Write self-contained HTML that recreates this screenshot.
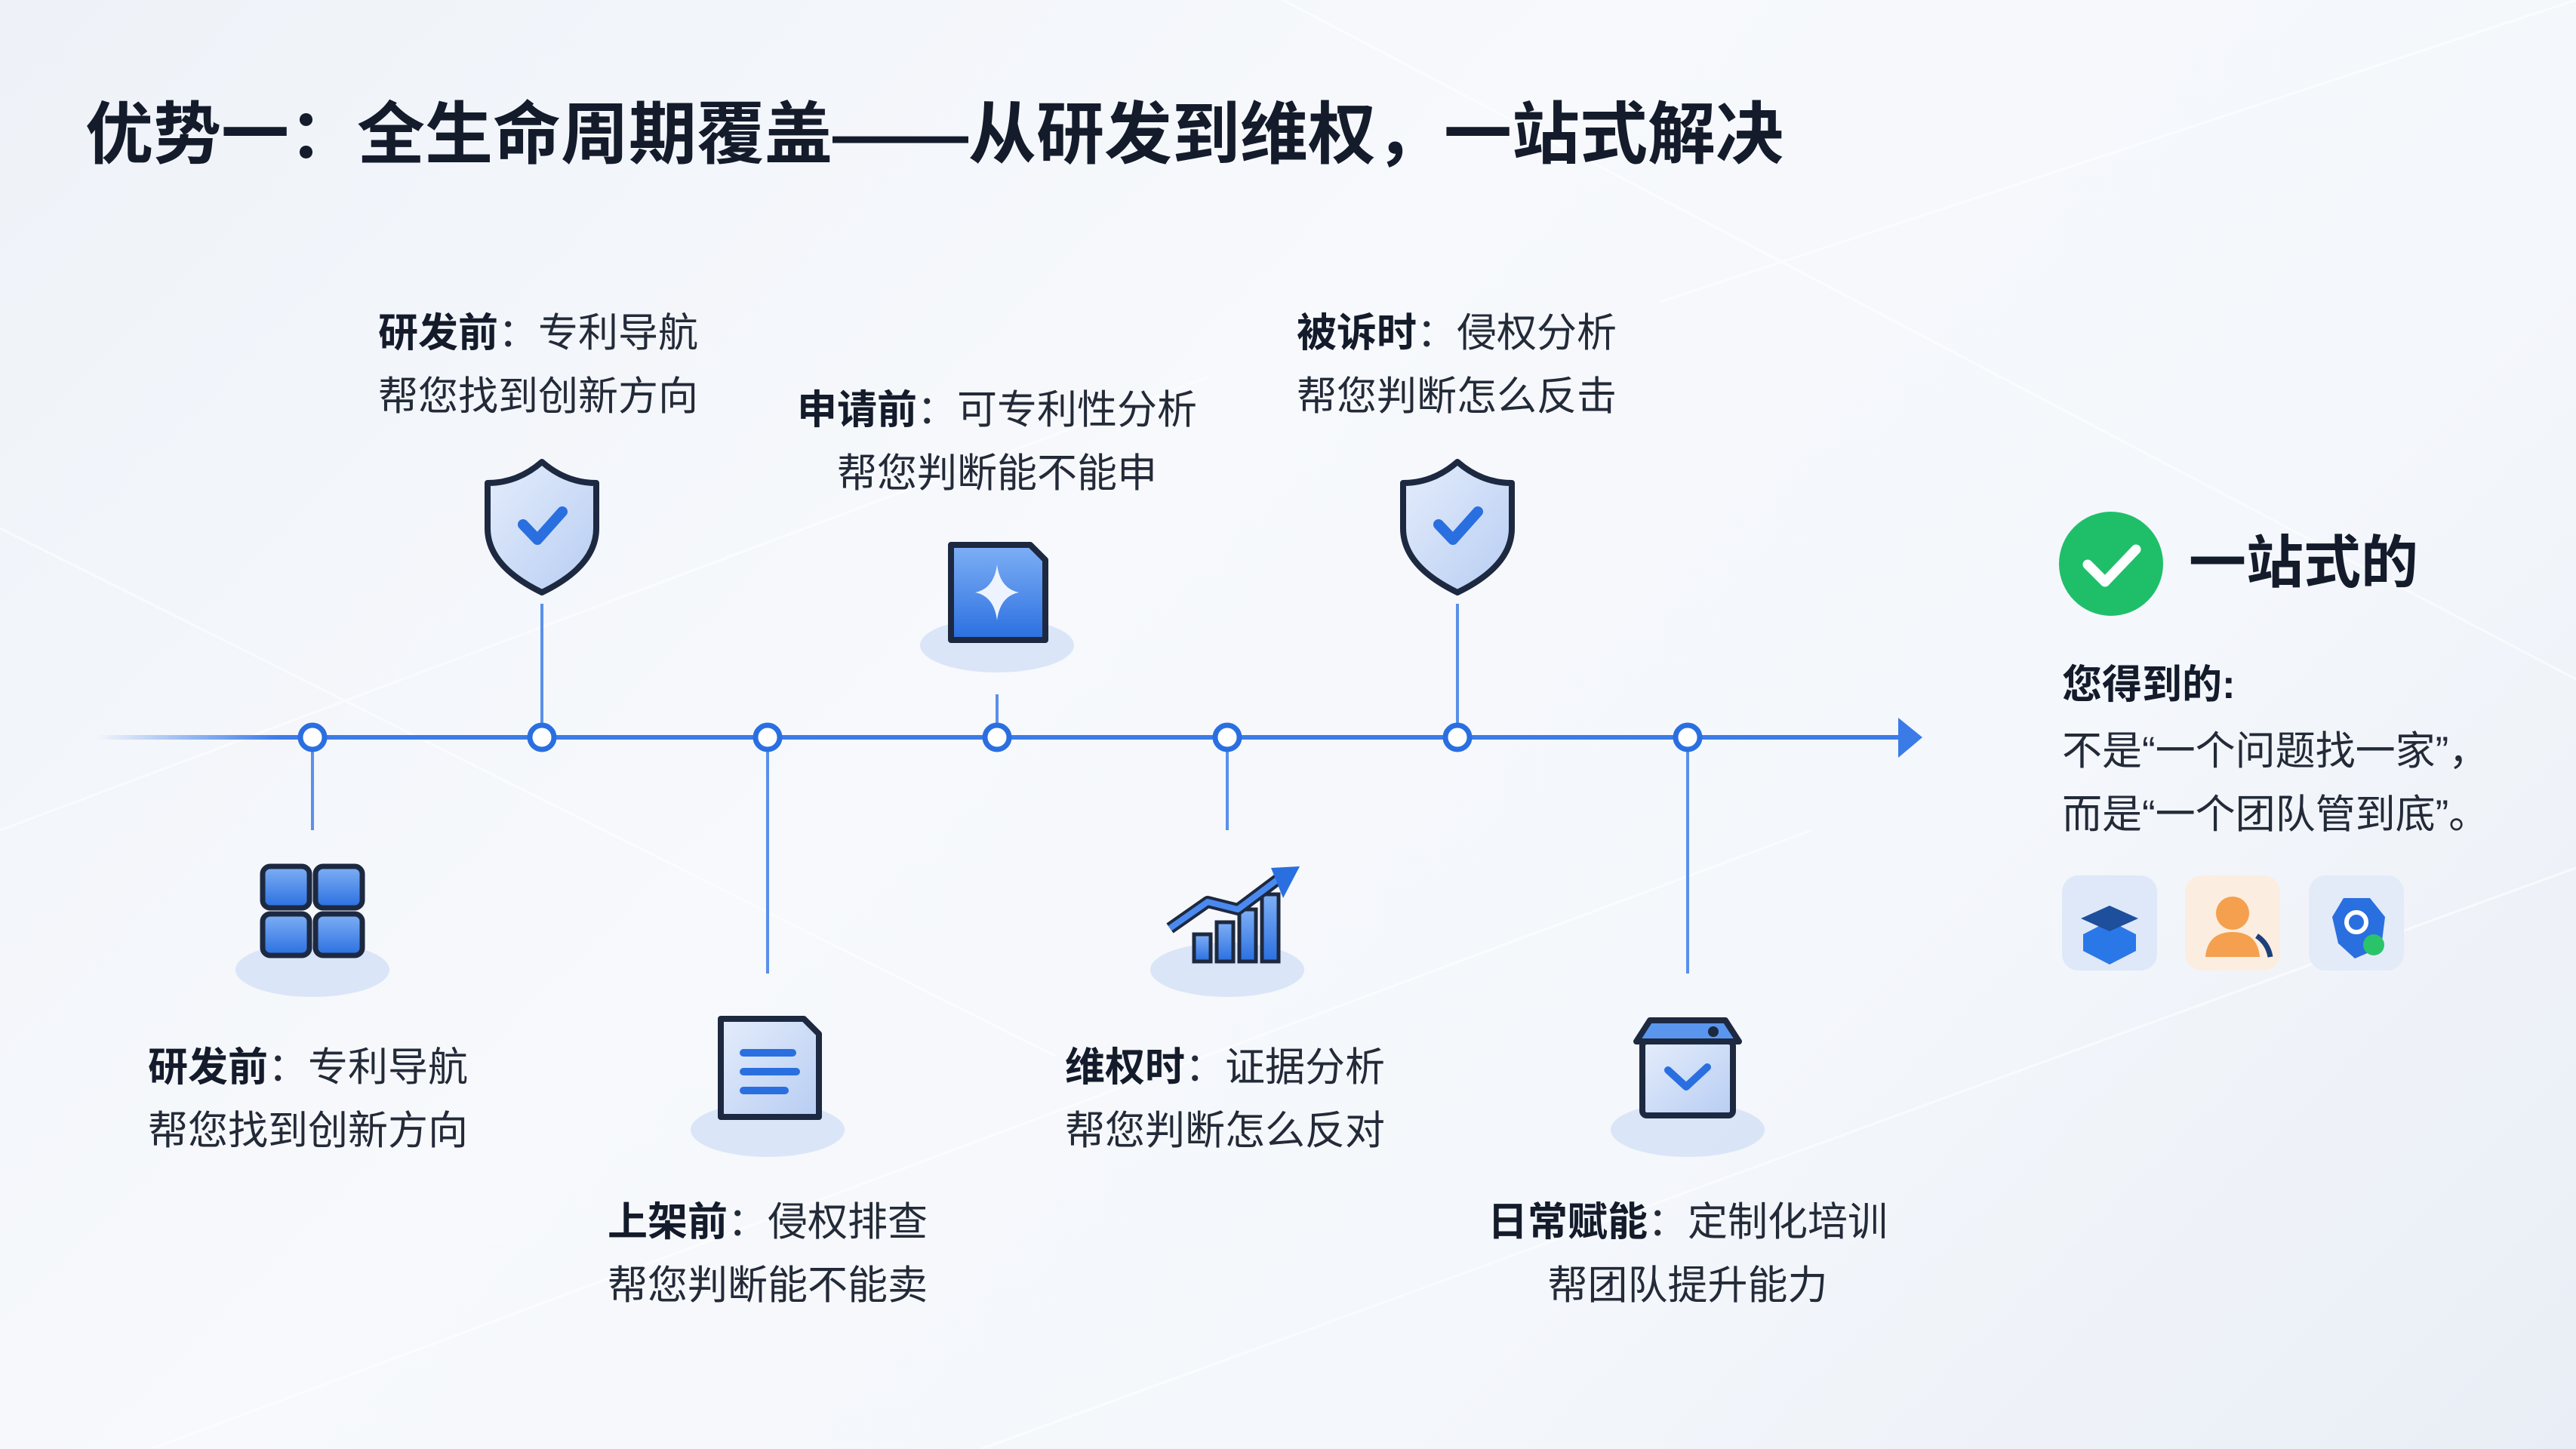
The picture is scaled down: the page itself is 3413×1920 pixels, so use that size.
<!DOCTYPE html>
<html><head><meta charset="utf-8">
<style>
html,body{margin:0;padding:0;}
body{width:3413px;height:1920px;position:relative;overflow:hidden;
background:linear-gradient(135deg,#eef2f8 0%,#f7f9fc 40%,#f4f7fb 70%,#e9eef6 100%);
font-family:"Liberation Sans","Noto Sans CJK SC",sans-serif;color:#1e2533;}
.t{position:absolute;font-size:53px;line-height:84px;white-space:nowrap;color:#232a38;}
.t b{color:#141b2b;}
.c{transform:translateX(-50%);text-align:center;}
</style></head><body>
<svg width="3413" height="1920" style="position:absolute;left:0;top:0">
<defs>
<linearGradient id="ln" gradientUnits="userSpaceOnUse" x1="130" y1="0" x2="2520" y2="0"><stop offset="0" stop-color="#3b7be8" stop-opacity="0"/><stop offset="0.1" stop-color="#3b7be8"/><stop offset="1" stop-color="#3b7be8"/></linearGradient>
<linearGradient id="bl" x1="0" y1="0" x2="0" y2="1"><stop offset="0" stop-color="#7fb0f5"/><stop offset="1" stop-color="#2a6fe0"/></linearGradient>
<linearGradient id="sh" x1="0" y1="0" x2="1" y2="1"><stop offset="0" stop-color="#e4edfb"/><stop offset="1" stop-color="#b8cdf3"/></linearGradient>
</defs>
<g stroke="#ffffff" stroke-width="3" opacity="0.6">
<line x1="0" y1="1100" x2="1600" y2="500"/><line x1="200" y1="1920" x2="2400" y2="1100"/>
<line x1="1300" y1="1920" x2="3413" y2="1150"/><line x1="0" y1="700" x2="1400" y2="1400"/>
<line x1="1700" y1="0" x2="3413" y2="900"/><line x1="2200" y1="400" x2="3413" y2="0"/>
</g>
<!-- timeline -->
<line x1="130" y1="977" x2="2520" y2="977" stroke="url(#ln)" stroke-width="6"/>
<polygon points="2515,951 2547,977 2515,1004" fill="#3b7be8"/>
<!-- stems -->
<g stroke="#5b90ea" stroke-width="4">
<line x1="718" y1="800" x2="718" y2="977"/>
<line x1="1321" y1="920" x2="1321" y2="977"/>
<line x1="1931" y1="800" x2="1931" y2="977"/>
<line x1="414" y1="977" x2="414" y2="1100"/>
<line x1="1017" y1="977" x2="1017" y2="1290"/>
<line x1="1626" y1="977" x2="1626" y2="1100"/>
<line x1="2236" y1="977" x2="2236" y2="1290"/>
</g>
<g fill="#fff" stroke="#2a6fe0" stroke-width="7">
<circle cx="414" cy="977" r="16"/><circle cx="718" cy="977" r="16"/><circle cx="1017" cy="977" r="16"/>
<circle cx="1321" cy="977" r="16"/><circle cx="1626" cy="977" r="16"/><circle cx="1931" cy="977" r="16"/><circle cx="2236" cy="977" r="16"/>
</g>
<!-- shadows -->
<g fill="#d3e0f6" opacity="0.8">
<ellipse cx="1321" cy="855" rx="102" ry="36"/><ellipse cx="414" cy="1285" rx="102" ry="36"/>
<ellipse cx="1017" cy="1497" rx="102" ry="36"/><ellipse cx="1626" cy="1285" rx="102" ry="36"/>
<ellipse cx="2236" cy="1497" rx="102" ry="36"/>
</g>
<!-- shields -->
<g id="shield">
<path d="M718,612 Q750,640 790,640 L790,700 Q790,750 718,785 Q646,750 646,700 L646,640 Q686,640 718,612Z" fill="url(#sh)" stroke="#1d2940" stroke-width="8" stroke-linejoin="round"/>
<polyline points="693,695 712,715 745,678" fill="none" stroke="#2a6fe0" stroke-width="14" stroke-linecap="round" stroke-linejoin="round"/>
</g>
<use href="#shield" x="1213" y="0"/>
<!-- doc plus -->
<path d="M1260,722 L1365,722 L1385,742 L1385,848 L1260,848Z" fill="url(#bl)" stroke="#1d2940" stroke-width="8" stroke-linejoin="round"/>
<path d="M1321,748 Q1325,780 1350,785 Q1325,790 1321,822 Q1317,790 1292,785 Q1317,780 1321,748Z" fill="#eef4ff"/>
<!-- grid icon -->
<g stroke="#1d2940" stroke-width="7" fill="url(#bl)">
<rect x="348" y="1148" width="62" height="55" rx="10"/><rect x="418" y="1148" width="62" height="55" rx="10"/>
<rect x="348" y="1211" width="62" height="55" rx="10"/><rect x="418" y="1211" width="62" height="55" rx="10"/>
</g>
<!-- document -->
<path d="M955,1350 L1065,1350 L1085,1370 L1085,1480 L955,1480Z" fill="url(#sh)" stroke="#1d2940" stroke-width="8" stroke-linejoin="round"/>
<g stroke="#2a6fe0" stroke-width="10" stroke-linecap="round"><line x1="985" y1="1395" x2="1050" y2="1395"/><line x1="985" y1="1420" x2="1055" y2="1420"/><line x1="985" y1="1445" x2="1040" y2="1445"/></g>
<!-- chart -->
<g fill="url(#bl)" stroke="#1d2940" stroke-width="5">
<rect x="1582" y="1238" width="22" height="36"/><rect x="1612" y="1222" width="22" height="52"/><rect x="1642" y="1205" width="22" height="69"/><rect x="1672" y="1185" width="22" height="89"/>
</g>
<polyline points="1550,1230 1600,1195 1640,1205 1700,1160" fill="none" stroke="#1d2940" stroke-width="16" stroke-linejoin="round"/>
<polyline points="1550,1230 1600,1195 1640,1205 1700,1160" fill="none" stroke="#4a8af0" stroke-width="8" stroke-linejoin="round"/>
<polygon points="1684,1150 1700,1190 1722,1148" fill="#2a6fe0"/>
<!-- box -->
<path d="M2168,1380 L2186,1352 L2286,1352 L2304,1380Z" fill="#5a96ee" stroke="#1d2940" stroke-width="8" stroke-linejoin="round"/>
<rect x="2176" y="1380" width="120" height="98" rx="6" fill="url(#sh)" stroke="#1d2940" stroke-width="8"/>
<polyline points="2210,1418 2234,1440 2262,1414" fill="none" stroke="#2a6fe0" stroke-width="10" stroke-linecap="round" stroke-linejoin="round"/>
<circle cx="2270" cy="1367" r="7" fill="#1d2940"/>
<!-- right panel -->
<circle cx="2797" cy="747" r="69" fill="#1fbf6a"/>
<polyline points="2766,748 2789,771 2830,728" fill="none" stroke="#fff" stroke-width="13" stroke-linecap="round" stroke-linejoin="round"/>
<rect x="2732" y="1160" width="126" height="126" rx="22" fill="#dfe8f8"/>
<rect x="2895" y="1160" width="126" height="126" rx="22" fill="#fbeee0"/>
<rect x="3059" y="1160" width="126" height="126" rx="22" fill="#e3ebf8"/>
<polygon points="2795,1220 2830,1238 2830,1260 2795,1278 2760,1260 2760,1238" fill="#2a78e8"/>
<polygon points="2795,1200 2833,1217 2795,1234 2757,1217" fill="#1d4f9c"/>
<circle cx="2958" cy="1210" r="22" fill="#f5a04f"/>
<path d="M2922,1268 Q2925,1235 2958,1235 Q2991,1235 2994,1268Z" fill="#f5a04f"/>
<path d="M2990,1240 Q3005,1250 3008,1268" fill="none" stroke="#1d3f7a" stroke-width="7"/>
<polygon points="3105,1190 3140,1190 3160,1215 3155,1255 3120,1270 3098,1250 3090,1215" fill="#2a6fe0"/>
<circle cx="3122" cy="1222" r="13" fill="none" stroke="#fff" stroke-width="6"/>
<circle cx="3145" cy="1252" r="14" fill="#2bc36a"/>
</svg>

<div class="t" style="left:113px;top:126px;font-size:90px;line-height:106px;font-weight:bold;color:#141b2b;">优势一：全生命周期覆盖——从研发到维权，一站式解决</div>

<div class="t" style="left:501px;top:400px;"><b>研发前</b>：专利导航<br>帮您找到创新方向</div>
<div class="t c" style="left:1321px;top:502px;"><b>申请前</b>：可专利性分析<br>帮您判断能不能申</div>
<div class="t" style="left:1718px;top:400px;"><b>被诉时</b>：侵权分析<br>帮您判断怎么反击</div>
<div class="t" style="left:196px;top:1373px;"><b>研发前</b>：专利导航<br>帮您找到创新方向</div>
<div class="t c" style="left:1017px;top:1578px;"><b>上架前</b>：侵权排查<br>帮您判断能不能卖</div>
<div class="t" style="left:1411px;top:1373px;"><b>维权时</b>：证据分析<br>帮您判断怎么反对</div>
<div class="t c" style="left:2236px;top:1578px;"><b>日常赋能</b>：定制化培训<br>帮团队提升能力</div>

<div class="t" style="left:2900px;top:700px;font-size:76px;line-height:94px;font-weight:bold;color:#141b2b;">一站式的</div>
<div class="t" style="left:2732px;top:866px;font-weight:bold;color:#141b2b;">您得到的:</div>
<div class="t" style="left:2732px;top:954px;">不是“一个问题找一家”，<br>而是“一个团队管到底”。</div>
</body></html>
